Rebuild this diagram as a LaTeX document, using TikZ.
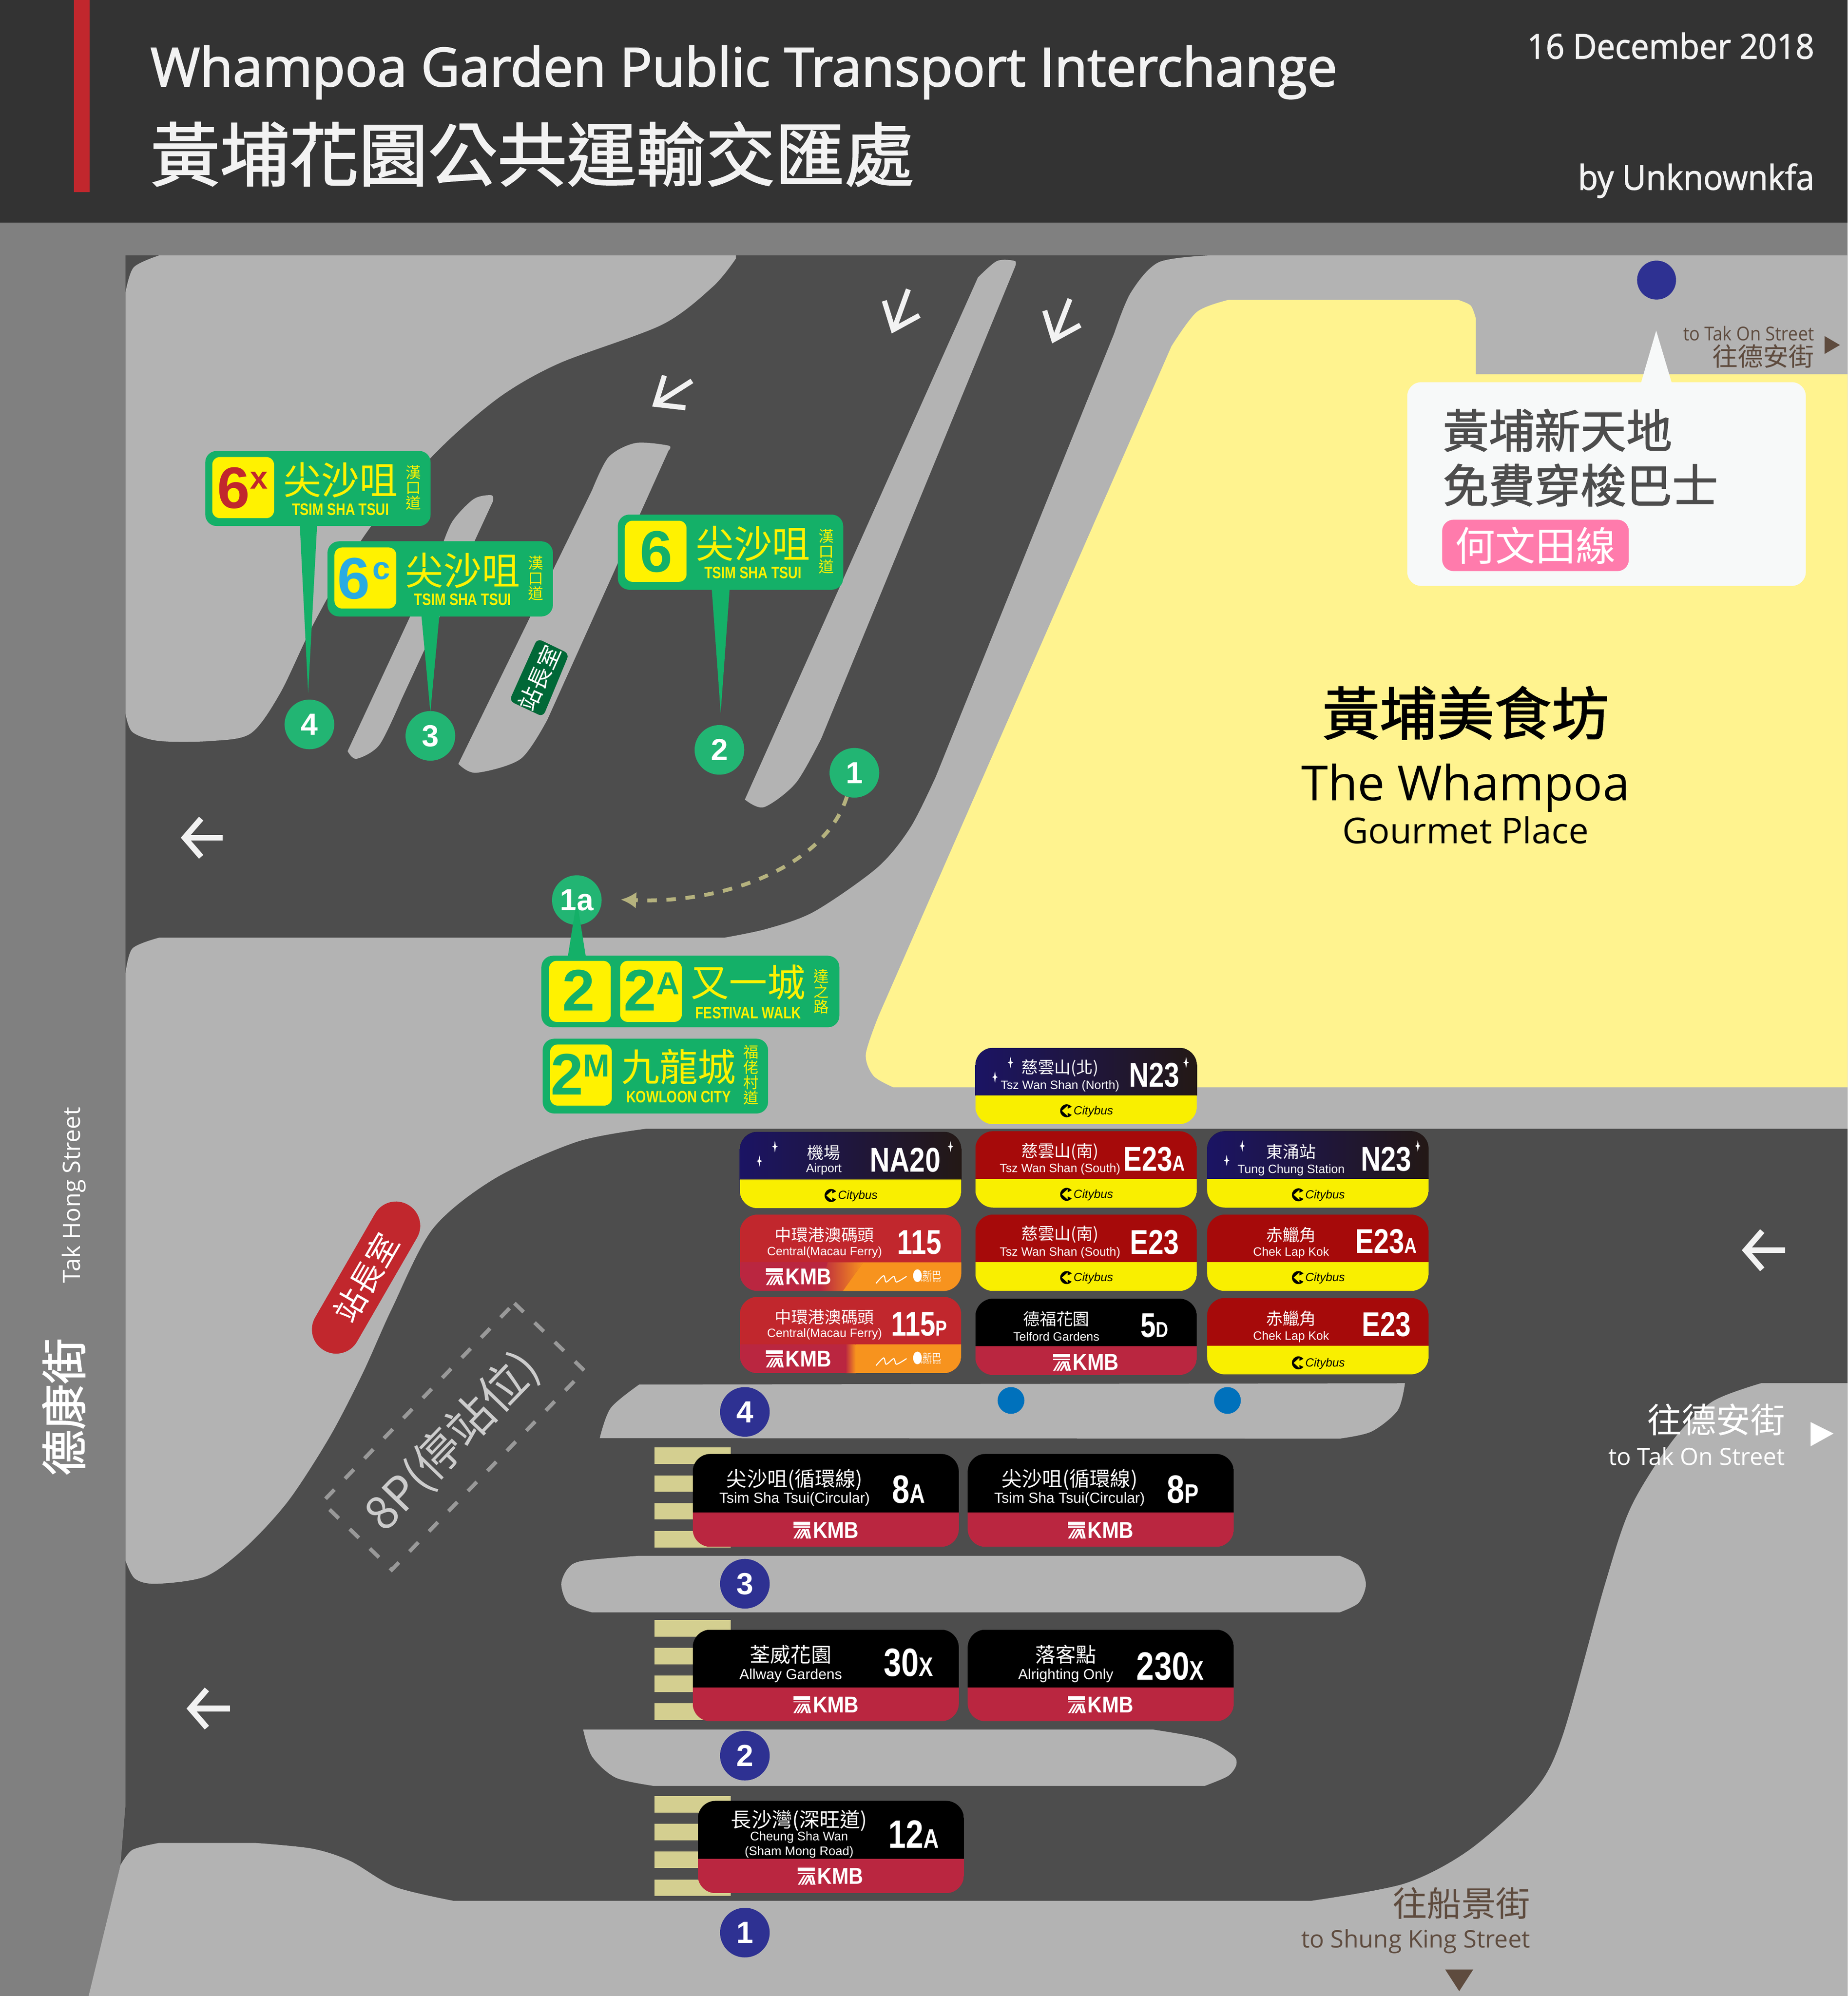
\documentclass[tikz,border=0pt]{standalone}
\usepackage{fontspec}
\usetikzlibrary{arrows.meta}
\setmainfont{Liberation Sans}
\newfontfamily\cjkfont{Noto Sans CJK TC}
\newfontfamily\cjkmedfont[FakeBold=1.6]{Noto Sans CJK TC}
\newfontfamily\titlefont{Open Sans}
\newfontfamily\semifont[FakeBold=2]{Open Sans}
\newfontfamily\semislimfont[FakeBold=1.6,FakeStretch=0.95]{Open Sans}
\newfontfamily\slimfont[FakeStretch=0.92]{Open Sans}
\newfontfamily\numfont[FakeStretch=0.8]{Liberation Sans}
\newfontfamily\kmbfont[FakeStretch=0.88]{Liberation Sans}

\definecolor{roadgrey}{HTML}{4D4D4D}
\definecolor{pavegrey}{HTML}{B3B3B3}
\definecolor{stripgrey}{HTML}{808080}
\definecolor{headgrey}{HTML}{333333}
\definecolor{foodyellow}{HTML}{FFF38F}
\definecolor{bubblewhite}{HTML}{F7F9F9}
\definecolor{brownink}{HTML}{5E4B3E}
\definecolor{tagpink}{HTML}{FF7BAC}
\definecolor{zebra}{HTML}{D4CF90}
\definecolor{signgreen}{HTML}{14B068}
\definecolor{signyellow}{HTML}{FFF200}
\definecolor{stopgreen}{HTML}{22B573}
\definecolor{stopblue}{HTML}{2E3192}
\definecolor{dotblue}{HTML}{0071BC}
\definecolor{roomgreen}{HTML}{006837}
\definecolor{roomred}{HTML}{C1272D}
\definecolor{skyblue}{HTML}{29ABE2}
\definecolor{walkkhaki}{HTML}{B5B27E}
\definecolor{nightleft}{HTML}{1B1464}
\definecolor{nightright}{HTML}{231815}
\definecolor{ctbyellow}{HTML}{F9EF00}
\definecolor{ctbred}{HTML}{A60A0A}
\definecolor{kmbred}{HTML}{BA2640}
\definecolor{nworange}{HTML}{F7931E}
\definecolor{arrowwhite}{HTML}{F2F2F2}

\tikzset{
  stopgreennode/.style={circle,fill=stopgreen,minimum size=39pt,inner sep=0pt,text=white,font=\bfseries\fontsize{24}{24}\selectfont},
  stopbluenode/.style={circle,fill=stopblue,minimum size=39pt,inner sep=0pt,text=white,font=\bfseries\fontsize{24}{24}\selectfont},
  dotnode/.style={circle,fill=dotblue,minimum size=21pt,inner sep=0pt},
  signbox/.style={fill=signgreen,rounded corners=9pt,anchor=north west,inner sep=0pt},
  signtile/.style={fill=signyellow,rounded corners=6pt,anchor=north west,inner sep=0pt,minimum width=48.5pt,minimum height=48pt},
  bignum/.style={font=\bfseries\fontsize{46}{46}\selectfont,inner sep=0pt},
  supnum/.style={font=\bfseries\fontsize{25}{25}\selectfont,inner sep=0pt},
  signcn/.style={text=signyellow,font=\cjkfont\fontsize{30}{30}\selectfont,inner sep=0pt},
  signen/.style={text=signyellow,font=\numfont\bfseries\fontsize{13}{13}\selectfont,inner sep=0pt},
  signside/.style={text=signyellow,font=\cjkfont\fontsize{12}{12}\selectfont,align=center,inner sep=0pt},
  cnlabel/.style={text=white,font=\cjkfont\fontsize{13}{13}\selectfont,inner sep=0pt},
  enlabel/.style={text=white,font=\fontsize{9.5}{11}\selectfont,inner sep=0pt,align=center},
  numlabel/.style={text=white,font=\numfont\bfseries\fontsize{27}{27}\selectfont,inner sep=0pt},
  cnstreet/.style={font=\cjkfont\fontsize{27}{27}\selectfont,inner sep=0pt,anchor=east},
  enstreet/.style={font=\titlefont\fontsize{18.6}{19}\selectfont,inner sep=0pt,anchor=east},
  roadarrow/.style={draw=arrowwhite,line width=4.5pt,-{Straight Barb[length=13pt,width=30pt]}},
  roadstroke/.style={draw=arrowwhite,line width=4pt,miter limit=10},
}

\newcommand{\sufxsize}{17}
\newcommand{\sufx}[1]{{\fontsize{\sufxsize}{\sufxsize}\selectfont #1}}

% board: x, y, width, top height, full height, top fill, bottom fill
\newcommand{\busboard}[7]{%
  \begin{scope}
    \clip[rounded corners=14pt] (#1,#2) rectangle ++(#3,#5);
    \fill[#6] (#1,#2) rectangle ++(#3,#4);
    \fill[#7] (#1,#2+#4) rectangle ++(#3,#5-#4);
  \end{scope}}

% board texts: id, cx, cy, chinese, ey, english, nx, ny, number
\newcommand{\boardlabels}[9]{%
  \node[cnlabel] (#1cn) at (#2,#3+.5) {#4};
  \node[enlabel] (#1en) at (#2,#5+1) {#6};
  \node[numlabel] (#1num) at (#7,#8) {#9};}

\newcommand{\nightstars}[2]{%
  \foreach \sx/\sy in {27.6/11.6,15.4/23,165.5/11.6}
    \fill[white] (#1+\sx,#2+\sy-4.5) -- (#1+\sx+.7,#2+\sy-.7) -- (#1+\sx+2.2,#2+\sy) -- (#1+\sx+.7,#2+\sy+.7) -- (#1+\sx,#2+\sy+4.5) -- (#1+\sx-.7,#2+\sy+.7) -- (#1+\sx-2.2,#2+\sy) -- (#1+\sx-.7,#2+\sy-.7) -- cycle;}

\newcommand{\citybuslogo}[3]{%
  \fill[black] (#2-15.3,#3+.5) circle (5.1);
  \fill[ctbyellow] (#2-19,#3+.5) -- (#2-14.5,#3-3.5) -- (#2-14.5,#3-1.1) -- (#2-9.5,#3-3.5) -- (#2-9.5,#3+4.5) -- (#2-14.5,#3+2.1) -- (#2-14.5,#3+4.5) -- cycle;
  \node[inner sep=0pt,font=\itshape\fontsize{9.3}{9.3}\selectfont] (#1) at (#2+5.7,#3+1) {Citybus};}

\newcommand{\kmblogo}[3]{%
  \fill[white] (#2-25.9,#3-6.6) rectangle (#2-12.6,#3-3.8);
  \fill[white] (#2-25.9,#3-2.8) -- (#2-12.6,#3-2.8) -- (#2-12.6,#3-1.8) -- (#2-25.9,#3-1.8) -- cycle;
  \foreach \k in {0,1,2}
    \fill[white] (#2-25.9+\k*2.6,#3+6.6) -- (#2-21.4+\k*2.6,#3-.8) -- (#2-20+\k*2.6,#3-.8) -- (#2-24.3+\k*2.6,#3+6.6) -- cycle;
  \foreach \k in {0,1}
    \fill[white] (#2-18.5+\k*3,#3-.8) -- (#2-16.9+\k*3,#3-.8) -- (#2-14+\k*2,#3+6.6) -- (#2-15.8+\k*2,#3+6.6) -- cycle;
  \node[text=white,inner sep=0pt,font=\kmbfont\bfseries\fontsize{18}{18}\selectfont] (#1) at (#2+7.5,#3) {KMB};}

\newcommand{\firstbuslogo}[3]{%
  \draw[white,line width=.8pt] plot[smooth] coordinates {(#2,#3+6) (#2+6,#3) (#2+8,#3+5) (#2+14,#3+.5) (#2+16,#3+5) (#2+24,#3+.5)};
  \fill[white] (#2+32.5,#3) ellipse (3.4 and 5);
  \node[text=white,inner sep=0pt,font=\cjkfont\fontsize{7.5}{7.5}\selectfont] (#1cn) at (#2+44,#3-.5) {新巴};
  \node[text=white,inner sep=0pt,font=\fontsize{3}{3}\selectfont] (#1en) at (#2+43,#3+3.8) {FIRST BUS};}

% tsim sha tsui sign: id, x, y, digit x, digit, sup, colour
\newcommand{\tsimsign}[7]{%
  \node[signbox,minimum width=177pt,minimum height=59pt] (#1) at (#2,#3) {};
  \node[signtile] (#1tile) at (#2+5.5,#3+4.8) {};
  \node[bignum,text=#7] (#1num) at (#2+#4,#3+29.5) {#5};
  \node[supnum,text=#7] (#1sup) at (#2+42.5,#3+23.3) {#6};
  \node[signcn] (#1cn) at (#2+106.4,#3+23) {尖沙咀};
  \node[signen] (#1en) at (#2+106.4,#3+46) {TSIM SHA TSUI};
  \node[signside] (#1side) at (#2+163.8,#3+29) {漢\\口\\道};}

\begin{document}
\begin{tikzpicture}[x=1pt,y=-1pt]
  \useasboundingbox (0,0) rectangle (1451,1567.8);

  % ground
  \fill[stripgrey] (0,0) rectangle (1451,1567.8);
  \fill[roadgrey] (98.5,200.6) -- (1451,200.6) -- (1451,1567.8) -- (70,1567.8) -- (94.6,1465) -- (98.5,1419) -- cycle;

  % top left block
  \fill[pavegrey] (98.5,230) -- plot[smooth] coordinates {(98.5,230) (105,210) (125,200.6)} -- (578,200.6)
    -- plot[smooth] coordinates {(578,203) (560,225) (520,255) (440,285) (395,310) (353,345) (310,390) (280,430) (245.7,491) (220,544.5) (197,576) (166,582) (125,582) (104,575) (98.5,560)} -- cycle;
  % islands
  \fill[pavegrey] plot[smooth] coordinates {(387,394) (386,389) (372,392) (355,410) (345,435)} -- (273,590)
    -- plot[smooth] coordinates {(273,590) (280,596) (298,585) (315,550)} -- cycle;
  \fill[pavegrey] plot[smooth] coordinates {(525,354) (525,350) (499,348) (478,359) (465,385)} -- (360,600)
    -- plot[smooth] coordinates {(360,600) (374,607) (409,596) (430,565)} -- cycle;
  \fill[pavegrey] plot[smooth] coordinates {(797,210) (797,205) (783,205) (768,218)} -- (585,628)
    -- plot[smooth] coordinates {(585,628) (600,634) (625,615) (645,580)} -- cycle;

  % big pavement
  \fill[pavegrey] (1451,200.6) -- (950,200.6)
    -- plot[smooth] coordinates {(950,200.6) (910,206) (888,230) (875,262)} -- (735,610)
    -- plot[smooth] coordinates {(735,610) (715,650) (689,681.5) (639.5,716) (602.5,729.5) (569,736.5)} -- (125,736.5)
    -- plot[smooth] coordinates {(125,736.5) (104,745) (98.5,765)} -- (98.5,1225.6)
    -- plot[smooth] coordinates {(98.5,1225.6) (106,1240) (123,1244) (162,1238) (194.3,1214) (226.7,1178.5) (259,1128.5) (285,1078.3) (307.7,1028) (340,965) (388.7,925.6) (453.5,896.7) (508,886.5)} -- (1451,886.5) -- cycle;

  % food court
  \fill[foodyellow] (1451,294) -- (1159,294) -- (1159,250)
    -- plot[smooth] coordinates {(1159,250) (1155,240) (1145,235.5)} -- (965,235.5)
    -- plot[smooth] coordinates {(965,235.5) (940,245) (920,272)} -- (690,798)
    -- plot[smooth] coordinates {(690,798) (680,828) (686,845) (701.5,854)} -- (1451,854) -- cycle;

  % platforms
  \fill[pavegrey] plot[smooth] coordinates {(471,1129.6) (479.6,1106) (502,1087.5)} -- (1103.4,1086.5)
    -- plot[smooth] coordinates {(1103.4,1086.5) (1097.6,1107.9) (1077,1124.5) (1052,1130)} -- cycle;
  \fill[pavegrey] plot[smooth] coordinates {(502,1222) (457.5,1226) (446,1232) (440.8,1244.5) (446.5,1259.5) (465,1266.5)} -- (1052,1266.5)
    -- plot[smooth] coordinates {(1052,1266.5) (1067,1259) (1072.7,1244.5) (1067,1229.6) (1052,1222)} -- cycle;
  \fill[pavegrey] plot[smooth] coordinates {(458,1358.5) (465,1379.7) (483.6,1396.3) (513.6,1402.8)} -- (946,1402.8)
    -- plot[smooth] coordinates {(946,1402.8) (964.4,1395) (971,1386) (968,1378.4) (946,1366) (905.5,1358.5)} -- cycle;

  % bottom pavement
  \fill[pavegrey] (69.6,1567.8) -- (94.6,1465)
    -- plot[smooth] coordinates {(94.6,1465) (104,1453) (124.7,1447.6)} -- (201,1447.6)
    -- plot[smooth] coordinates {(201,1447.6) (245,1452) (275,1461.7) (310,1482) (356,1493)} -- (1030,1493)
    -- plot[smooth] coordinates {(1030,1493) (1103,1479.5) (1154,1453) (1204.5,1407) (1227,1364) (1260,1246) (1281,1183.5) (1314,1131) (1344.6,1101) (1383,1086.5)} -- (1451,1086.5) -- (1451,1567.8) -- cycle;

  % zebra crossings
  \foreach \zy in {1137,1272.5,1410.8}
    \foreach \zi in {0,1,2,3}
      \fill[zebra] (514,\zy+21.8*\zi) rectangle ++(60,13);

  % road arrows
  \draw[roadarrow] (175,658) -- (142,658);
  \draw[roadarrow] (1402,982) -- (1368,982);
  \draw[roadarrow] (180.7,1342) -- (146.5,1342);
  \draw[roadstroke] (694.5,236.3) -- (701.5,259) -- (722,247.8);
  \draw[roadstroke] (713.4,227.3) -- (703,256);
  \draw[roadstroke] (820.5,244) -- (827.5,266.8) -- (848.4,255.4);
  \draw[roadstroke] (840.3,234.9) -- (829,264);
  \draw[roadstroke] (521.8,295) -- (514.8,317.6) -- (538.3,320.3);
  \draw[roadstroke] (543.4,299.2) -- (517,316);

  % stops
  \node[stopgreennode] (stop4) at (243,569) {4};
  \node[stopgreennode] (stop3) at (338,578) {3};
  \node[stopgreennode] (stop2) at (565,589) {2};
  \node[stopgreennode] (stop1) at (671,607) {1};
  \node[stopgreennode] (stop1a) at (453,707) {1a};
  \node[stopbluenode] (bay4) at (585,1109) {4};
  \node[stopbluenode] (bay3) at (585,1244) {3};
  \node[stopbluenode] (bay2) at (585,1379) {2};
  \node[stopbluenode] (bay1) at (585,1518) {1};
  \node[dotnode] (dotleft) at (794,1100) {};
  \node[dotnode] (dotright) at (964,1100) {};
  \node[circle,fill=stopblue,minimum size=30.6pt,inner sep=0pt] (shuttlestop) at (1301,220) {};

  % walking path 1 to 1a
  \coordinate (walkend) at (487.6,706.6);
  \draw[walkkhaki,line width=3pt,dash pattern=on 7.5pt off 7.5pt,-{Latex[length=12pt,width=13pt]}] (stop1) .. controls (648,680) and (570,710) .. (walkend);

  % green signs
  \tsimsign{signsixx}{161}{354}{22.3}{6}{x}{roomred}
  \tsimsign{signsixc}{257}{425}{20.9}{6}{c}{skyblue}
  \tsimsign{signsix}{485}{404}{30.3}{6}{}{signgreen}
  \coordinate (tipsixx) at (242,544.5);
  \coordinate (tipsixc) at (338,559.4);
  \coordinate (tipsix) at (566,560);
  \fill[signgreen] (235.5,413) -- (249,413) -- (tipsixx) -- cycle;
  \fill[signgreen] (331,484) -- (345,484) -- (tipsixc) -- cycle;
  \fill[signgreen] (559,463) -- (573,463) -- (tipsix) -- cycle;

  \node[signbox,minimum width=234pt,minimum height=56.2pt] (signfest) at (425,750.5) {};
  \fill[signgreen] (446,751) -- (460,751) -- (stop1a.center) -- cycle;
  \node[signtile] (tilea) at (431,754.5) {};
  \node[signtile] (tileb) at (486.8,754.5) {};
  \node[bignum,text=signgreen] (numa) at (454.5,777.7) {2};
  \node[bignum,text=signgreen] (numb) at (502.7,777.7) {2};
  \node[supnum,text=signgreen] (supb) at (524.5,772.4) {A};
  \node[signcn] (festcn) at (587.6,771.6) {又一城};
  \node[signen] (festen) at (587.6,795.4) {FESTIVAL WALK};
  \node[signside] (festside) at (645,778.8) {達\\之\\路};

  \node[signbox,minimum width=177pt,minimum height=58.7pt] (signkln) at (426,815.7) {};
  \node[signtile] (tilec) at (431.8,820.2) {};
  \node[bignum,text=signgreen] (numc) at (445.2,843.8) {2};
  \node[supnum,text=signgreen] (supc) at (468.3,837) {M};
  \node[signcn] (klncn) at (533,838) {九龍城};
  \node[signen] (klnen) at (533,861.4) {KOWLOON CITY};
  \node[signside] (klnside) at (590,844.3) {福\\佬\\村\\道};

  % station master rooms
  \coordinate (rooma) at (422,501.5);
  \coordinate (roomb) at (447,513.5);
  \coordinate (roomc) at (426.5,563);
  \coordinate (roomd) at (400,550.5);
  \fill[roomgreen,rounded corners=4pt] (rooma) -- (roomb) -- (roomc) -- (roomd) -- cycle;
  \node[text=white,inner sep=0pt,rotate=66,font=\cjkfont\fontsize{18}{18}\selectfont] (roomgreennode) at (423.5,532.5) {站長室};
  \node[fill=roomred,text=white,rounded corners=18.9pt,minimum width=132pt,minimum height=38pt,inner sep=0pt,rotate=60,font=\cjkfont\fontsize{25}{25}\selectfont] (roomrednode) at (287.5,1003.5) {站長室};

  % 8P stand
  \coordinate (standa) at (404,1023.6);
  \coordinate (standb) at (459,1076.6);
  \coordinate (standc) at (307.7,1233);
  \coordinate (standd) at (253,1180);
  \draw[gray!80,line width=3pt,dash pattern=on 10pt off 12pt] (standa) -- (standb) -- (standc) -- (standd) -- cycle;
  \node[text=black!20,inner sep=0pt,rotate=46,font=\cjkfont\fontsize{36.5}{36.5}\selectfont] (standtext) at (355.4,1132.4) {8P(停站位)};

  % boards, upper group
  \busboard{766}{823}{174}{37.5}{60}{left color=nightleft,right color=nightright}{ctbyellow}
  \nightstars{766}{823}
  \boardlabels{ntwo}{832.5}{838.5}{慈雲山(北)}{852}{Tsz Wan Shan (North)}{906.4}{844.5}{N23}
  \citybuslogo{ctbnorth}{853}{872}

  \busboard{581}{889}{174}{37.5}{60}{left color=nightleft,right color=nightright}{ctbyellow}
  \nightstars{581}{889}
  \boardlabels{natwenty}{647}{905}{機場}{917.5}{Airport}{711}{911}{NA20}
  \citybuslogo{ctbair}{668}{938.5}

  \busboard{766}{888.5}{174}{37.5}{60}{ctbred}{ctbyellow}
  \boardlabels{esouthA}{832.5}{904.3}{慈雲山(南)}{917.5}{Tsz Wan Shan (South)}{906.6}{910.5}{E23\sufx{A}}
  \citybuslogo{ctbsouthA}{853}{937.6}

  \busboard{948}{888.5}{174}{37.5}{60}{left color=nightleft,right color=nightright}{ctbyellow}
  \nightstars{948}{888.5}
  \boardlabels{ntung}{1014}{904}{東涌站}{918}{Tung Chung Station}{1088.7}{910.5}{N23}
  \citybuslogo{ctbtung}{1035}{938}

  \busboard{581}{954}{174}{37.5}{60}{roomred}{kmbred}
  \begin{scope}
    \clip[rounded corners=14pt] (581,954) rectangle ++(174,60);
    \shade[left color=kmbred,right color=nworange] (650,991.5) -- (678,991.5) -- (662,1014) -- (644,1014) -- cycle;
    \fill[nworange] (678,991.5) -- (755,991.5) -- (755,1014) -- (662,1014) -- cycle;
  \end{scope}
  \boardlabels{oneonefive}{647.6}{969.6}{中環港澳碼頭}{982.5}{Central(Macau Ferry)}{722}{975.7}{115}
  \kmblogo{kmbfivea}{627.5}{1002.8}
  \firstbuslogo{nwfba}{688}{1002}

  \busboard{766}{954}{174}{37.5}{60}{ctbred}{ctbyellow}
  \boardlabels{esouth}{832.5}{969}{慈雲山(南)}{983}{Tsz Wan Shan (South)}{906.6}{975.7}{E23}
  \citybuslogo{ctbsouth}{853}{1003}

  \busboard{948}{954}{174}{37.5}{60}{ctbred}{ctbyellow}
  \boardlabels{echekA}{1014}{969.6}{赤鱲角}{983}{Chek Lap Kok}{1088.7}{975}{E23\sufx{A}}
  \citybuslogo{ctbchekA}{1035}{1003}

  \busboard{581}{1018.6}{174}{37.5}{60}{roomred}{kmbred}
  \begin{scope}
    \clip[rounded corners=14pt] (581,1018.6) rectangle ++(174,60);
    \shade[left color=kmbred,right color=nworange] (664,1056) rectangle (672,1078.6);
    \fill[nworange] (672,1056) rectangle (755,1078.6);
  \end{scope}
  \boardlabels{oneonefivep}{647.6}{1034}{中環港澳碼頭}{1047}{Central(Macau Ferry)}{722}{1040}{115\sufx{P}}
  \kmblogo{kmbfiveb}{627.5}{1067.4}
  \firstbuslogo{nwfbb}{688}{1066.6}

  \busboard{766}{1020}{174}{37.5}{60}{black}{kmbred}
  \boardlabels{fived}{829.6}{1035.3}{德福花園}{1049}{Telford Gardens}{906.6}{1041}{5\sufx{D}}
  \kmblogo{kmbtelford}{853}{1070}

  \busboard{948}{1019.5}{174}{37.5}{60}{ctbred}{ctbyellow}
  \boardlabels{echek}{1014}{1035}{赤鱲角}{1049}{Chek Lap Kok}{1088.7}{1040.5}{E23}
  \citybuslogo{ctbchek}{1035}{1070}

  % boards, lower group
  \begin{scope}[cnlabel/.append style={font=\cjkfont\fontsize{16}{16}\selectfont},enlabel/.append style={font=\fontsize{11.5}{12}\selectfont},numlabel/.append style={font=\numfont\bfseries\fontsize{31}{31}\selectfont}]
    \renewcommand{\sufxsize}{21}
    \busboard{544}{1142}{209}{46}{73}{black}{kmbred}
    \boardlabels{eighta}{624}{1162}{尖沙咀(循環線)}{1176.4}{Tsim Sha Tsui(Circular)}{713.5}{1170}{8\sufx{A}}
    \kmblogo{kmbeighta}{649}{1201.8}
    \busboard{760}{1142}{209}{46}{73}{black}{kmbred}
    \boardlabels{eightp}{840}{1162}{尖沙咀(循環線)}{1176.4}{Tsim Sha Tsui(Circular)}{929}{1170}{8\sufx{P}}
    \kmblogo{kmbeightp}{864.7}{1201.8}
    \busboard{544}{1280}{209}{45.6}{72}{black}{kmbred}
    \boardlabels{thirtyx}{621}{1299}{荃威花園}{1315}{Allway Gardens}{713.5}{1306}{30\sufx{X}}
    \kmblogo{kmbthirty}{649}{1339}
    \busboard{760}{1280}{209}{45.6}{72}{black}{kmbred}
    \boardlabels{twothirtyx}{837}{1299}{落客點}{1315}{Alrighting Only}{919}{1308.7}{230\sufx{X}}
    \kmblogo{kmbtwothirty}{864.7}{1339}
    \busboard{548}{1414.5}{209}{45.5}{72.5}{black}{kmbred}
    \node[cnlabel] (twelvecn) at (627.6,1430) {長沙灣(深旺道)};
    \node[enlabel,font=\fontsize{9.8}{11.4}\selectfont] (twelveen) at (627.6,1449) {Cheung Sha Wan\\(Sham Mong Road)};
    \node[numlabel] (twelvenum) at (717.6,1440.7) {12\sufx{A}};
    \kmblogo{kmbtwelve}{652.5}{1473.7}
  \end{scope}

  % shuttle bubble
  \coordinate (bubbletip) at (1300.7,259.7);
  \fill[bubblewhite] (1288.7,301) -- (bubbletip) -- (1313,301) -- cycle;
  \node[fill=bubblewhite,rounded corners=11pt,anchor=north west,minimum width=313pt,minimum height=160pt,inner sep=0pt] (bubble) at (1105,300) {};
  \node[text=roadgrey,anchor=west,inner sep=0pt,font=\cjkmedfont\fontsize{36}{36}\selectfont] (bubblea) at (1133,338) {黃埔新天地};
  \node[text=roadgrey,anchor=west,inner sep=0pt,font=\cjkmedfont\fontsize{36}{36}\selectfont] (bubbleb) at (1133,381) {免費穿梭巴士};
  \node[fill=tagpink,rounded corners=9pt,text=white,minimum width=146.6pt,minimum height=40.4pt,inner sep=0pt,anchor=north west,font=\cjkfont\fontsize{31.5}{31.5}\selectfont] (bubbletag) at (1132.4,408) {何文田線};

  % food court label
  \node[inner sep=0pt,font=\cjkmedfont\fontsize{45}{45}\selectfont] (foodcn) at (1151,560) {黃埔美食坊};
  \node[inner sep=0pt,font=\titlefont\fontsize{38}{38}\selectfont] (fooden) at (1151,619) {The Whampoa};
  \node[inner sep=0pt,font=\titlefont\fontsize{28}{28}\selectfont] (foodsub) at (1151,652) {Gourmet Place};

  % street labels
  \node[text=white,inner sep=0pt,rotate=90,anchor=west,font=\titlefont\fontsize{18.8}{19}\selectfont] (takhongen) at (58,1008) {Tak Hong Street};
  \node[text=white,inner sep=0pt,rotate=90,font=\cjkmedfont\fontsize{36}{36}\selectfont] (takhongcn) at (50,1105) {德康街};

  \node[text=brownink,inner sep=0pt,anchor=east,font=\slimfont\fontsize{15}{15}\selectfont] (tonorthen) at (1425,262) {to Tak On Street};
  \node[text=brownink,cnstreet,font=\cjkfont\fontsize{20}{20}\selectfont] (tonorthcn) at (1425,280) {往德安街};
  \fill[brownink] (1433,264) -- (1445,271) -- (1433,278) -- cycle;

  \node[text=white,cnstreet] (toeastcn) at (1402,1115) {往德安街};
  \node[text=white,enstreet] (toeasten) at (1402,1144) {to Tak On Street};
  \fill[white] (1422,1117) -- (1440,1126) -- (1422,1136) -- cycle;

  \node[text=brownink,cnstreet] (tosouthcn) at (1202,1495) {往船景街};
  \node[text=brownink,enstreet,font=\titlefont\fontsize{19}{19}\selectfont] (tosouthen) at (1202,1525) {to Shung King Street};
  \fill[brownink] (1135,1547) -- (1157,1547) -- (1146,1564) -- cycle;

  % header
  \fill[headgrey] (0,0) rectangle (1451,175);
  \fill[roomred] (58,0) rectangle (70.5,151);
  \node[text=arrowwhite,anchor=base west,inner sep=0pt,font=\semifont\fontsize{42}{42}\selectfont] (titleen) at (118,67.7) {Whampoa Garden Public Transport Interchange};
  \node[text=arrowwhite,anchor=west,inner sep=0pt,font=\cjkmedfont\fontsize{54.5}{54.5}\selectfont] (titlecn) at (118,121) {黃埔花園公共運輸交匯處};
  \node[text=arrowwhite,anchor=east,inner sep=0pt,font=\semislimfont\fontsize{27}{27}\selectfont] (datelabel) at (1425,36) {16 December 2018};
  \node[text=arrowwhite,anchor=east,inner sep=0pt,font=\semislimfont\fontsize{27}{27}\selectfont] (bylabel) at (1425,142) {by Unknownkfa};
\end{tikzpicture}
\end{document}
